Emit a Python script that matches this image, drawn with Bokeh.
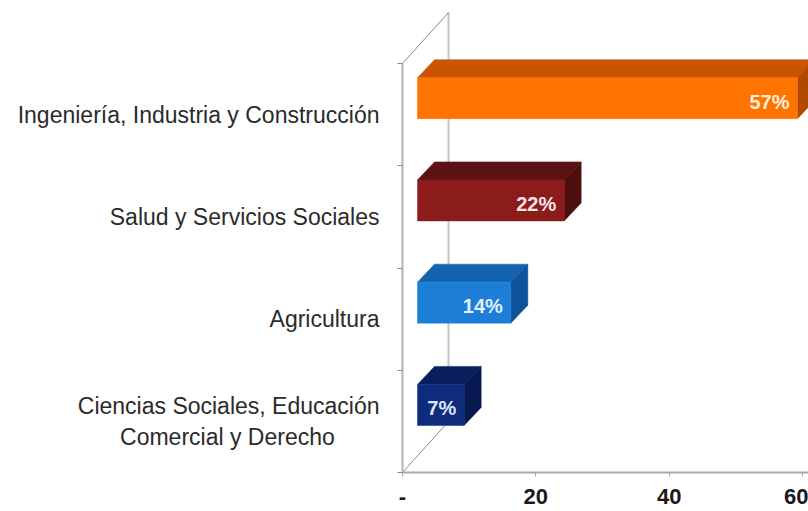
from bokeh.plotting import figure
from bokeh.models import FixedTicker, Range1d
from bokeh.embed import file_html
from bokeh.resources import INLINE
from bokeh.core.properties import value

# ---------------- data ----------------
categories = [
    "Ciencias Sociales, Educación\nComercial y Derecho",
    "Agricultura",
    "Salud y Servicios Sociales",
    "Ingeniería, Industria y Construcción",
]
values = [7, 14, 22, 57]
value_labels = ["7%", "14%", "22%", "57%"]
x_ticks = [0, 20, 40, 60]
x_tick_labels = ["-", "20", "40", "60"]

# ---------------- styles ----------------
front_colors = ["#0E2B7C", "#1C7ED6", "#8C1C1C", "#FF7300"]
top_colors = ["#0A1E5E", "#1363B0", "#5C1212", "#C95500"]
side_colors = ["#071850", "#0E529A", "#4E0E0E", "#B04800"]
label_colors = ["#DDE4FF", "#E2F0FF", "#F6E6E6", "#FFEEDC"]

SX = 400 / 60.0   # pixels per x unit
SY = 409 / 4.0    # pixels per category band


def px_x(p):
    return p / SX


def px_y(p):
    return p / SY


def centre_lines(label, pad_char="\u00a0"):
    # pad shorter lines on the right so right-aligned axis labels look centred
    lines = label.split("\n")
    if len(lines) == 1:
        return label
    longest = max(len(l) for l in lines)
    out = []
    for l in lines:
        extra = int(round((longest - len(l)) * 0.5 * 1.6))
        out.append(l + pad_char * extra)
    return "\n".join(out)


p = figure(width=808, height=511, output_backend="svg", toolbar_location=None,
           x_range=Range1d(0, 406 / SX), y_range=Range1d(0, 472 / SY),
           min_border_left=402, min_border_right=0, min_border_top=0,
           min_border_bottom=39)
p.grid.visible = False
p.outline_line_color = None
p.background_fill_color = "white"
p.border_fill_color = "white"

# --- back wall / floor edges ---
wx, wy = px_x(46), px_y(51)
p.line([wx, wx], [wy, 4 + wy], line_color="#C4C4C4", line_width=2)
p.line([0, wx], [4, 4 + wy], line_color="#8A8A8A", line_width=1)
p.line([0, wx], [0, wy], line_color="#8A8A8A", line_width=1)

# --- 3D bars ---
ox = px_x(15)
ddx, ddy = px_x(17), px_y(18)
front_xs, front_ys, top_xs, top_ys, side_xs, side_ys = [], [], [], [], [], []
lab_x, lab_y = [], []
for i, v in enumerate(values):
    yc = i + 0.5 + px_y(16)
    yb = yc - px_y(20)
    yt = yc + px_y(21)
    x0 = ox
    x1 = ox + v
    front_xs.append([x0, x1, x1, x0]); front_ys.append([yb, yb, yt, yt])
    top_xs.append([x0, x1, x1 + ddx, x0 + ddx]); top_ys.append([yt, yt, yt + ddy, yt + ddy])
    side_xs.append([x1, x1 + ddx, x1 + ddx, x1]); side_ys.append([yb, yb + ddy, yt + ddy, yt])
    lab_x.append(x1 - px_x(8))
    lab_y.append(yc - px_y(3))

p.patches(top_xs, top_ys, fill_color=top_colors, line_color=top_colors, line_width=0.5)
p.patches(side_xs, side_ys, fill_color=side_colors, line_color=side_colors, line_width=0.5)
p.patches(front_xs, front_ys, fill_color=front_colors, line_color=front_colors, line_width=0.5)

p.text(x=lab_x, y=lab_y, text=value_labels, text_align="right", text_baseline="middle",
       text_font=value("Liberation Sans"), text_font_style="bold", text_font_size="20px",
       text_color=label_colors)

# --- x axis ---
xa = p.xaxis[0]
xa.ticker = FixedTicker(ticks=x_ticks, minor_ticks=[])
xa.major_label_overrides = {t: l for t, l in zip(x_ticks, x_tick_labels)}
xa.axis_line_color = "#A8A8A8"
xa.axis_line_width = 2
xa.major_tick_line_color = "#A8A8A8"
xa.major_tick_out = 4
xa.major_tick_in = 0
xa.minor_tick_line_color = None
xa.major_label_standoff = 12
xa.major_label_text_font = "Liberation Sans"
xa.major_label_text_font_style = "bold"
xa.major_label_text_font_size = "22px"
xa.major_label_text_color = "#1a1a1a"

# --- y axis (categories) ---
ya = p.yaxis[0]
band_centers = [i + 0.5 for i in range(len(categories))]
ya.ticker = FixedTicker(ticks=band_centers, minor_ticks=list(range(len(categories) + 1)))
ya.major_label_overrides = {c: centre_lines(n) for c, n in zip(band_centers, categories)}
ya.bounds = (0, len(categories))
ya.axis_line_color = "#B4B4B4"
ya.axis_line_width = 2
ya.major_tick_line_color = None
ya.minor_tick_line_color = "#8A8A8A"
ya.minor_tick_out = 5
ya.minor_tick_in = 0
ya.major_label_standoff = 17
ya.major_label_text_font = "Liberation Sans"
ya.major_label_text_font_size = "23px"
ya.major_label_text_color = "#2b2b2b"

open("out.html", "w").write(file_html(p, INLINE))
